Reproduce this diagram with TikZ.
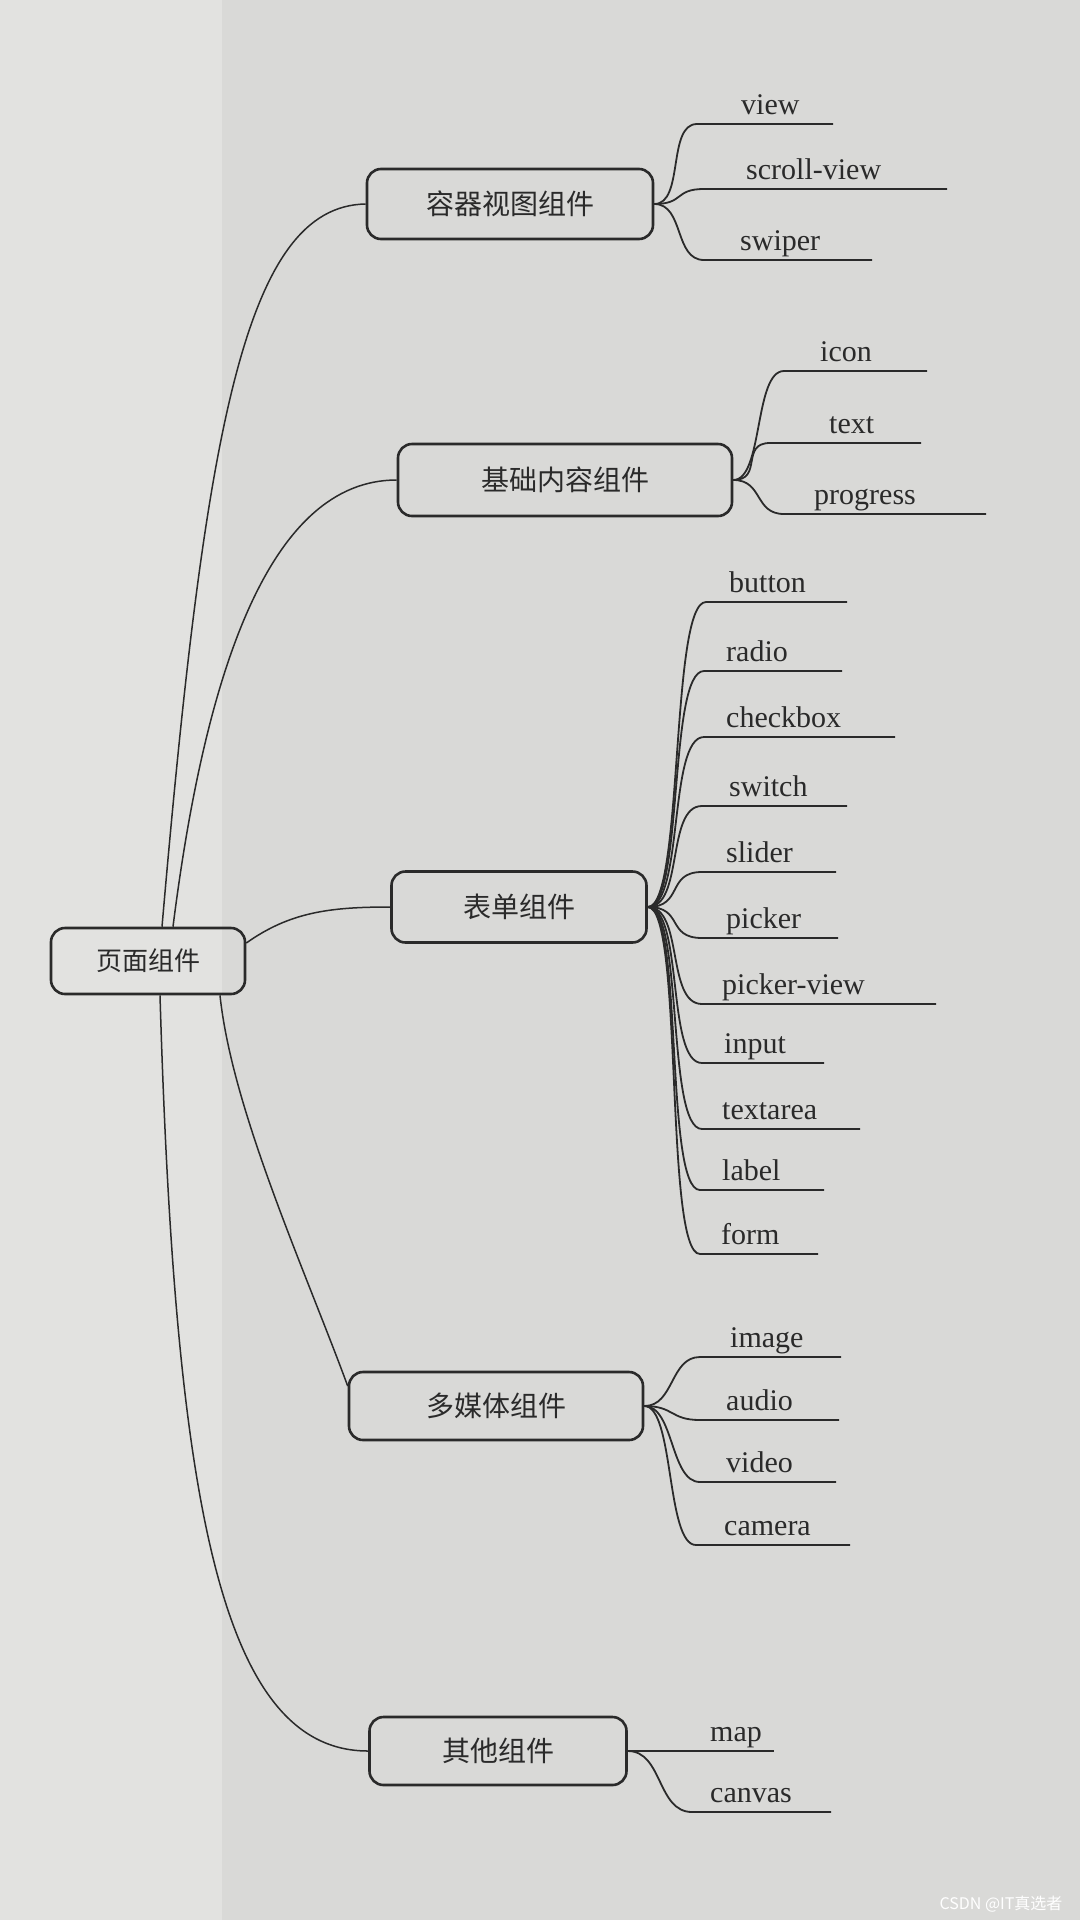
\documentclass[tikz,border=0pt]{standalone}
\usepackage{fontspec}
\setmainfont{Liberation Serif}
\newfontfamily\cjk{Noto Sans CJK SC}
\definecolor{paper}{HTML}{D9D9D7}
\definecolor{paperlight}{HTML}{E2E2E0}
\definecolor{ink}{HTML}{2A2A2A}
\newcommand\bend{30}
\newcommand\mkleaf[7]{%
  \node[leaf] (#1) at (#3,#4-10) {#7};
  \coordinate (#1-s) at (#5,#4);
  \coordinate (#1-e) at (#6,#4);
  \draw[uline] (#2.east) .. controls +(\bend,0) and +(-\bend,0) .. (#1-s) -- (#1-e);
}
\begin{document}
\begin{tikzpicture}[x=1pt,y=-1pt,
  box/.style={draw=ink, line width=2.6pt, rounded corners=14pt, text=ink,
    font=\cjk\fontsize{28}{30}\selectfont, inner sep=0pt},
  leaf/.style={font=\fontsize{30}{32}\selectfont, text=ink, anchor=base west, inner sep=0pt},
  conn/.style={draw=ink, line width=1.5pt},
  uline/.style={draw=ink, line width=1.8pt}]
\useasboundingbox (0,0) rectangle (1080,1920);
\fill[paper] (0,0) rectangle (1080,1920);
\fill[paperlight] (0,0) rectangle (222,1920);

% root and branch boxes
\node[box, font=\cjk\fontsize{26}{28}\selectfont, minimum width=194pt, minimum height=66pt] (root) at (148,961) {页面组件};
\node[box, minimum width=286pt, minimum height=70pt] (b1) at (510,204) {容器视图组件};
\node[box, minimum width=334pt, minimum height=72pt] (b2) at (565,480) {基础内容组件};
\node[box, minimum width=255pt, minimum height=71pt] (b3) at (519,907) {表单组件};
\node[box, minimum width=294pt, minimum height=68pt] (b4) at (496,1406) {多媒体组件};
\node[box, minimum width=257pt, minimum height=68pt] (b5) at (498,1751) {其他组件};

% connectors from the root
\draw[conn] ([xshift=14pt]root.north) .. controls (205,429) and (245,206) .. (b1.west);
\draw[conn] ([xshift=25pt]root.north) .. controls (205,673) and (269,480) .. (b2.west);
\draw[conn] ([yshift=18pt]root.east) .. controls (290,912) and (330,907) .. (b3.west);
\draw[conn] ([xshift=72pt]root.south) .. controls (232,1110) and (305,1270) .. ([yshift=20pt]b4.west);
\draw[conn] ([xshift=12pt]root.south) .. controls (175,1500) and (220,1751) .. (b5.west);

% container view children
\mkleaf{view}{b1}{741}{124}{697}{833}{view}
\mkleaf{scroll}{b1}{746}{189}{704}{947}{scroll-view}
\mkleaf{swiper}{b1}{740}{260}{704}{872}{swiper}

% basic content children
\mkleaf{icon}{b2}{820}{371}{784}{927}{icon}
\mkleaf{text}{b2}{829}{443}{770}{921}{text}
\mkleaf{progress}{b2}{814}{514}{784}{986}{progress}

% form children
\renewcommand\bend{36}
\mkleaf{button}{b3}{729}{602}{706}{847}{button}
\mkleaf{radio}{b3}{726}{671}{704}{842}{radio}
\mkleaf{checkbox}{b3}{726}{737}{704}{895}{checkbox}
\mkleaf{switch}{b3}{729}{806}{702}{847}{switch}
\mkleaf{slider}{b3}{726}{872}{702}{836}{slider}
\mkleaf{picker}{b3}{726}{938}{702}{838}{picker}
\mkleaf{pickerview}{b3}{722}{1004}{702}{936}{picker-view}
\mkleaf{input}{b3}{724}{1063}{702}{824}{input}
\mkleaf{textarea}{b3}{722}{1129}{702}{860}{textarea}
\mkleaf{label}{b3}{722}{1190}{700}{824}{label}
\mkleaf{form}{b3}{721}{1254}{700}{818}{form}

% multimedia children
\renewcommand\bend{30}
\mkleaf{image}{b4}{730}{1357}{700}{841}{image}
\mkleaf{audio}{b4}{726}{1420}{700}{839}{audio}
\mkleaf{video}{b4}{726}{1482}{700}{836}{video}
\mkleaf{camera}{b4}{724}{1545}{696}{850}{camera}

% other children
\renewcommand\bend{35}
\mkleaf{map}{b5}{710}{1751}{692}{774}{map}
\mkleaf{canvas}{b5}{710}{1812}{692}{831}{canvas}

% watermark
\node[font=\cjk\fontsize{16}{17}\selectfont, text=white, anchor=east] (wm) at (1066,1904) {CSDN @IT真选者};
\end{tikzpicture}
\end{document}
